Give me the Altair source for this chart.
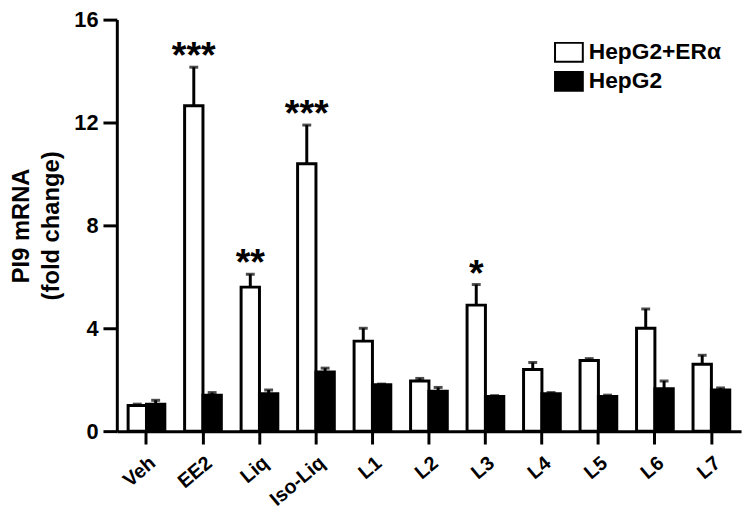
import altair as alt
import pandas as pd

categories = ["Veh", "EE2", "Liq", "Iso-Liq", "L1", "L2", "L3", "L4", "L5", "L6", "L7"]
series_names = ["HepG2+ERα", "HepG2"]
era_mean = [1.0, 12.65, 5.6, 10.4, 3.5, 1.95, 4.9, 2.4, 2.75, 4.0, 2.6]
era_err = [0.05, 1.5, 0.5, 1.5, 0.5, 0.1, 0.8, 0.27, 0.07, 0.75, 0.35]
hep_mean = [1.05, 1.4, 1.45, 2.3, 1.8, 1.55, 1.35, 1.45, 1.35, 1.65, 1.6]
hep_err = [0.15, 0.1, 0.15, 0.15, 0.03, 0.15, 0.03, 0.05, 0.05, 0.3, 0.08]
stars = ["", "***", "**", "***", "", "", "*", "", "", "", ""]
y_ticks = [0, 4, 8, 12, 16]
y_title = ["PI9 mRNA", "(fold change)"]

rows = []
for i, c in enumerate(categories):
    rows.append(dict(cat=c, series=series_names[0], mean=era_mean[i],
                     top=era_mean[i] + era_err[i], star=stars[i]))
    rows.append(dict(cat=c, series=series_names[1], mean=hep_mean[i],
                     top=hep_mean[i] + hep_err[i], star=""))
df = pd.DataFrame(rows)
df_cats = pd.DataFrame({"cat": categories})

FONT = "Liberation Sans"

x_scale = alt.Scale(domain=categories, paddingInner=0.35, paddingOuter=0.2)
x_axis = alt.Axis(labels=False)
x_enc = alt.X("cat:N", sort=categories, scale=x_scale, title=None, axis=x_axis)
xo_enc = alt.XOffset("series:N", sort=series_names,
                     scale=alt.Scale(domain=series_names, paddingInner=0, paddingOuter=0))
y_scale = alt.Scale(domain=[0, 16], nice=False)
y_axis = alt.Axis(values=y_ticks)


def y_of(field):
    return alt.Y(field, scale=y_scale, title=y_title, axis=y_axis)


bars = alt.Chart(df).mark_bar(stroke="black", strokeWidth=3).encode(
    x=x_enc, xOffset=xo_enc,
    y=y_of("mean:Q"),
    fill=alt.Fill("series:N", sort=series_names,
                  scale=alt.Scale(domain=series_names, range=["white", "black"]),
                  legend=alt.Legend(title=None, orient="none", legendX=443, legendY=19,
                                    symbolType="M-1.08,-0.73H1.08V0.73H-1.08Z", symbolSize=676,
                                    symbolStrokeColor="black", symbolStrokeWidth=2,
                                    labelFont=FONT, labelFontSize=23, labelFontWeight="bold",
                                    labelColor="black", labelOffset=6, rowPadding=1.5,
                                    padding=0)),
)

rules = alt.Chart(df).mark_rule(strokeWidth=3, color="black").encode(
    x=x_enc, xOffset=xo_enc,
    y=y_of("mean:Q"),
    y2="top:Q",
)

caps = alt.Chart(df).mark_tick(orient="horizontal", size=9, thickness=3, color="black").encode(
    x=x_enc, xOffset=xo_enc,
    y=y_of("top:Q"),
)

text = alt.Chart(df).transform_filter(alt.datum.star != "").mark_text(
    font=FONT, fontSize=38, fontWeight="bold", baseline="alphabetic", align="center",
    color="black", dy=1,
).encode(
    x=x_enc, xOffset=xo_enc,
    y=y_of("top:Q"),
    text="star:N",
)

# rotated category labels (dx/dy are applied in the rotated frame)
cat_labels = alt.Chart(df_cats).mark_text(
    font=FONT, fontSize=20, fontWeight="bold", color="black",
    align="right", baseline="top", dx=-14, dy=17,
).encode(
    x=x_enc,
    y=alt.datum(0, scale=y_scale, title=y_title, axis=y_axis),
    angle=alt.value(320),
    text="cat:N",
)

chart = alt.layer(bars, rules, caps, text, cat_labels).properties(
    width=631, height=416, autosize="none",
    padding={"left": 110, "top": 9, "right": 5, "bottom": 80},
).configure_view(stroke=None).configure_axis(
    grid=False, domainColor="black", domainWidth=3, tickColor="black", tickWidth=3,
    labelFont=FONT, labelFontWeight="bold", labelColor="black",
    titleFont=FONT, titleFontWeight="bold", titleColor="black",
).configure_axisX(
    tickSize=13,
).configure_axisY(
    labelFontSize=22, tickSize=14, labelPadding=5,
    titleFontSize=24, titleLineHeight=31, titlePadding=10,
)

chart.save("out.html", embed_options={"renderer": "svg", "actions": False})
